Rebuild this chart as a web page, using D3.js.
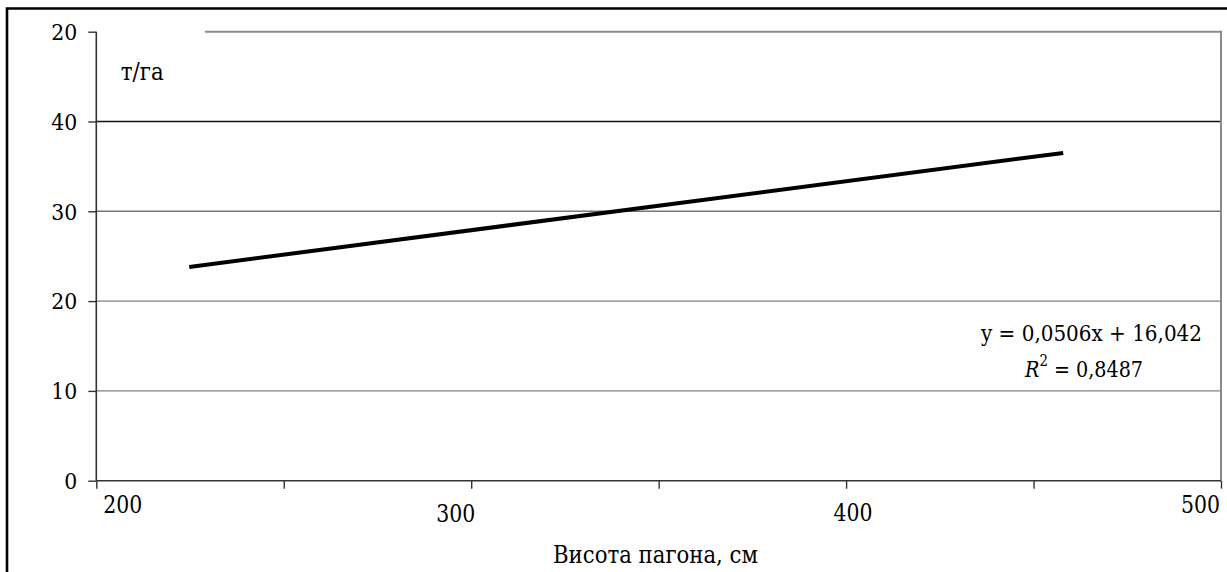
<!DOCTYPE html>
<html><head><meta charset="utf-8">
<script src="https://d3js.org/d3.v7.min.js"></script>
<style>
html,body{margin:0;padding:0;background:#fff;}
svg{display:block;}
</style></head>
<body>
<svg id="chart" width="1227" height="572"></svg>
<script>
// ---- data ----
const yTickValues = [0, 10, 20, 30, 40, 50];
const yTickLabels = ["0", "10", "20", "30", "40", "20"];
const xMajorTicks = [200, 300, 400, 500];
const xMinorTicks = [250, 350, 450];
const xTickLabels = ["200", "300", "400", "500"];
const trendX = [224.8, 457.9];
const trendY = [23.8, 36.5];
const equationText = "y = 0,0506x + 16,042";
const r2Value = "0,8487";
const yUnit = "т/га";
const xTitle = "Висота пагона, см";

// ---- styles (not data) ----
const xLabelDx = [26, -16, 6.5, -21];
const xLabelBaseline = [513.3, 522.3, 521, 512.7];
const gridColor = ["none", "#808080", "#808080", "#777", "#111", "#8a8a8a"];

const svg = d3.select("#chart");

// pick an installed serif font (Times-like)
let TIMES = false;
function pickFont() {
  const probe = svg.append("text").attr("font-size", 40).text("Висота пагона, см 0123456789");
  probe.attr("font-family", "zzzNoSuchFont");
  const base = probe.node().getComputedTextLength();
  const cands = ["Liberation Serif", "Tinos", "Times New Roman", "DejaVu Serif Condensed", "DejaVu Serif", "Noto Serif", "FreeSerif"];
  let found = "serif";
  for (const c of cands) {
    probe.attr("font-family", "'" + c + "'");
    const w = probe.node().getComputedTextLength();
    if (Math.abs(w - base) > 0.5) { found = c; break; }
  }
  probe.remove();
  TIMES = ["Liberation Serif", "Tinos", "Times New Roman"].includes(found);
  return found;
}
const FONT = "'" + pickFont() + "', serif";
const fs = s => (TIMES ? s : Math.round(s * 0.92)) + "px";
// force the Times-like width seen in the reference
function fit(sel, w) {
  sel.attr("textLength", w).attr("lengthAdjust", "spacingAndGlyphs");
}

const x = d3.scaleLinear().domain([200, 500]).range([96.3, 1221]);
const y = d3.scaleLinear().domain([0, 50]).range([480.7, 31.7]);

// outer frame
svg.append("path").attr("d", "M7,580 L7,8.5 L1240,8.5")
  .attr("fill", "none").attr("stroke", "#000").attr("stroke-width", 2.6);

// gridlines
yTickValues.forEach((v, i) => {
  if (v === 0) return;
  const x0 = v === 50 ? 205 : x(200);
  svg.append("line").attr("x1", x0).attr("x2", x(500))
    .attr("y1", y(v)).attr("y2", y(v))
    .attr("stroke", gridColor[i]).attr("stroke-width", v === 50 ? 2 : 1.4);
});

// right plot border
svg.append("line").attr("x1", x(500)).attr("x2", x(500))
  .attr("y1", y(50) - 1).attr("y2", y(0))
  .attr("stroke", "#8a8a8a").attr("stroke-width", 2);

// y axis
const yAxis = d3.axisLeft(y).tickValues(yTickValues)
  .tickFormat((d, i) => yTickLabels[i]).tickSize(8).tickPadding(11);
const gy = svg.append("g").attr("transform", `translate(${x(200)},0)`).call(yAxis);
gy.attr("font-family", null).attr("font-size", null);
gy.select(".domain").attr("stroke", "#333").attr("stroke-width", 1.6).attr("d", `M0,${y(50)}V${y(0)}`);
gy.selectAll(".tick line").attr("stroke", "#333").attr("stroke-width", 1.4);
gy.selectAll(".tick text").style("font-size", fs(25)).style("font-family", FONT)
  .attr("fill", "#000").attr("dy", "0.34em")
  .each(function(d, i) { fit(d3.select(this), yTickLabels[i].length * 13); });

// x axis
const xAxis = d3.axisBottom(x).tickValues(xMajorTicks.concat(xMinorTicks))
  .tickFormat(d => { const k = xMajorTicks.indexOf(d); return k >= 0 ? xTickLabels[k] : ""; })
  .tickSize(8);
const gx = svg.append("g").attr("transform", `translate(0,${y(0)})`).call(xAxis);
gx.attr("font-family", null).attr("font-size", null);
gx.select(".domain").attr("stroke", "#333").attr("stroke-width", 1.6).attr("d", `M${x(200)},0H${x(500)}`);
gx.selectAll(".tick line").attr("stroke", "#333").attr("stroke-width", 1.4);
gx.selectAll(".tick text").each(function(d) {
  const k = xMajorTicks.indexOf(d);
  if (k < 0) return;
  const t = d3.select(this).style("font-size", fs(26)).style("font-family", FONT).attr("fill", "#000")
    .attr("dy", null).attr("x", xLabelDx[k]).attr("y", xLabelBaseline[k] - y(0));
  fit(t, 39);
});

// trend line
const line = d3.line().x(d => x(d[0])).y(d => y(d[1]));
svg.append("path").datum(trendX.map((v, i) => [v, trendY[i]]))
  .attr("d", line).attr("fill", "none").attr("stroke", "#000").attr("stroke-width", 4);

// unit label
fit(svg.append("text").attr("x", 120.7).attr("y", 80)
  .style("font-family", FONT).style("font-size", fs(26)).text(yUnit), 43);

// equation
fit(svg.append("text").attr("x", 1202).attr("y", 341).attr("text-anchor", "end")
  .style("font-family", FONT).style("font-size", fs(25)).text(equationText), 221);
const r2 = svg.append("text").attr("x", 1025).attr("y", 377)
  .style("font-family", FONT).style("font-size", fs(25));
r2.append("tspan").attr("font-style", "italic").text("R");
r2.append("tspan").style("font-size", fs(17)).attr("dy", -11).text("2");
r2.append("tspan").attr("dy", 11).text(" = " + r2Value);
fit(r2, 118);

// x title
fit(svg.append("text").attr("x", 655.5).attr("y", 563).attr("text-anchor", "middle")
  .style("font-family", FONT).style("font-size", fs(26)).text(xTitle), 205);
</script>
</body></html>
